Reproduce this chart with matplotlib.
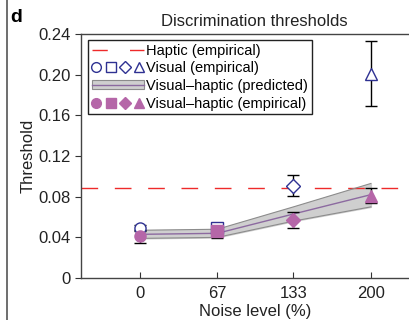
import numpy as np
import matplotlib
matplotlib.use('Agg')
import matplotlib.pyplot as plt
from matplotlib.lines import Line2D
from matplotlib.patches import Patch
from matplotlib.legend_handler import HandlerTuple

plt.rcParams['font.family'] = ['Liberation Sans', 'DejaVu Sans']

noise = [0, 67, 133, 200]
markers = ['o', 's', 'D', '^']

haptic = 0.089

visual = [0.049, 0.049, 0.091, 0.201]
visual_lo = [0.003, 0.003, 0.010, 0.032]
visual_hi = [0.003, 0.003, 0.010, 0.032]

vh = [0.041, 0.046, 0.057, 0.081]
vh_lo = [0.007, 0.007, 0.008, 0.007]
vh_hi = [0.006, 0.006, 0.008, 0.008]

pred = [0.043, 0.044, 0.063, 0.082]
pred_lo = [0.039, 0.040, 0.056, 0.070]
pred_hi = [0.047, 0.048, 0.070, 0.093]

blue = '#2e3192'
purple = '#b566a8'
red = '#ee2a2a'
band = '#cfcfcf'
band_edge = '#8c8c8c'
mid = '#8c6aa0'

fig = plt.figure(figsize=(4.09, 3.2), dpi=100)
ax = fig.add_axes([0.198, 0.131, 0.85, 0.763])

ax.fill_between(noise, pred_lo, pred_hi, color=band, zorder=1)
ax.plot(noise, pred_lo, color=band_edge, lw=0.8, zorder=2)
ax.plot(noise, pred_hi, color=band_edge, lw=0.8, zorder=2)
ax.plot(noise, pred, color=mid, lw=1.0, zorder=2)

ax.axhline(haptic, color=red, lw=1.0, dashes=(12, 12), zorder=1)

for i in range(4):
    ms = 8 if markers[i] != 'D' else 7
    ax.errorbar(noise[i], visual[i], yerr=[[visual_lo[i]], [visual_hi[i]]],
                fmt='none', ecolor='black', elinewidth=1, capsize=4, capthick=1, zorder=3)
    ax.errorbar(noise[i], vh[i], yerr=[[vh_lo[i]], [vh_hi[i]]],
                fmt='none', ecolor='black', elinewidth=1, capsize=4, capthick=1, zorder=3)
    ax.plot(noise[i], visual[i], marker=markers[i], ms=ms,
            mfc='white', mec=blue, mew=1.0, ls='none', zorder=4)
    ax.plot(noise[i], vh[i], marker=markers[i], ms=ms,
            mfc=purple, mec=purple, ls='none', zorder=5)

ax.set_xlim(-51, 250)
ax.set_ylim(0, 0.24)
ax.set_xticks(noise)
ax.set_xticklabels([str(n) for n in noise])
ax.set_yticks([0, 0.04, 0.08, 0.12, 0.16, 0.20, 0.24])
ax.set_yticklabels(['0', '0.04', '0.08', '0.12', '0.16', '0.20', '0.24'])
ax.tick_params(axis='x', direction='in', length=4, labelsize=12, pad=6, colors='#333333')
ax.tick_params(axis='y', direction='out', length=4, labelsize=12, colors='#333333')
for lab in ax.get_xticklabels() + ax.get_yticklabels():
    lab.set_color('#222222')
ax.spines['right'].set_visible(False)
for s in ['left', 'top', 'bottom']:
    ax.spines[s].set_color('#444444')
    ax.spines[s].set_linewidth(1.0)

ax.set_xlabel('Noise level (%)', fontsize=12, labelpad=2, color='#222222')
ax.set_ylabel('Threshold', fontsize=12, labelpad=2, color='#222222')
ax.set_title('Discrimination thresholds', fontsize=12, pad=6, color='#222222')

h_haptic = Line2D([], [], color=red, lw=1.0, dashes=(11, 16))
h_visual = tuple(Line2D([], [], marker=m, ms=7 if m != 'D' else 6.5, mfc='white', mec=blue,
                        mew=1.0, ls='none') for m in markers)
h_pred = (Patch(facecolor=band, edgecolor=band_edge, lw=0.8),
          Line2D([], [], color=mid, lw=1.0))
h_vh = tuple(Line2D([], [], marker=m, ms=7 if m != 'D' else 6.5, mfc=purple, mec=purple,
                    ls='none') for m in markers)

leg = ax.legend([h_haptic, h_visual, h_pred, h_vh],
                ['Haptic (empirical)', 'Visual (empirical)',
                 'Visual\u2013haptic (predicted)', 'Visual\u2013haptic (empirical)'],
                handler_map={h_visual: HandlerTuple(ndivide=None, pad=0.35),
                             h_vh: HandlerTuple(ndivide=None, pad=0.35),
                             h_pred: HandlerTuple(ndivide=1)},
                loc='upper left', bbox_to_anchor=(0.02, 0.975), fontsize=10.5,
                handlelength=3.6, handleheight=0.6, handletextpad=0.15, labelspacing=0.25,
                borderpad=0.25, borderaxespad=0.0, fancybox=False, framealpha=1)
leg.get_frame().set_edgecolor('#222222')
leg.get_frame().set_linewidth(1.0)

fig.text(0.025, 0.945, 'd', fontsize=14, fontweight='bold', va='center')
fig.add_artist(Line2D([0.017, 0.017], [0, 1], transform=fig.transFigure,
                      color='#555555', lw=1.2))

fig.savefig('out.png', dpi=100)
